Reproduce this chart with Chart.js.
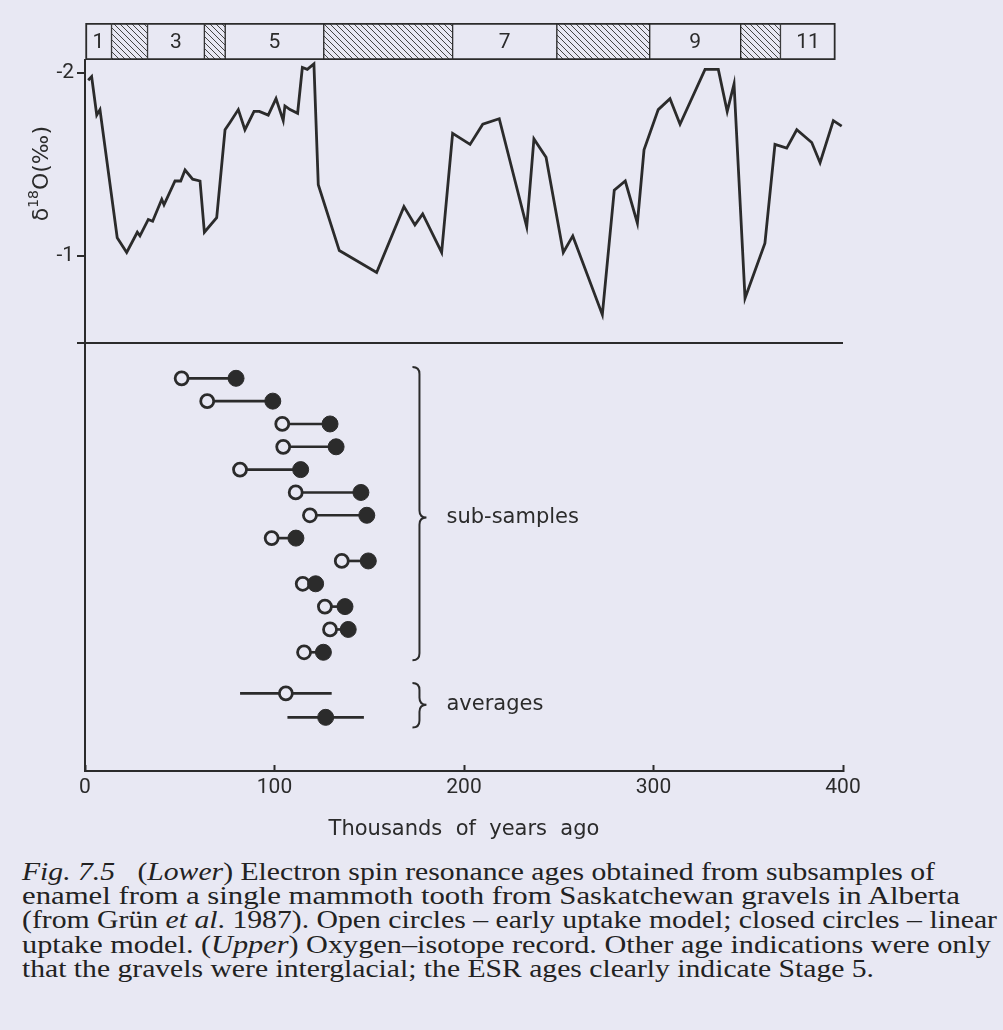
<!DOCTYPE html>
<html><head><meta charset="utf-8">
<script src="https://cdn.jsdelivr.net/npm/chart.js@4.4.1/dist/chart.umd.min.js"></script>
<style>
html,body{margin:0;padding:0;background:#e8e8f3;}
#wrap{position:relative;width:1003px;height:1030px;overflow:hidden;background:#e8e8f3;}
canvas{position:absolute;left:0;top:0;}
#cap{position:absolute;left:22px;top:860px;font-family:"Liberation Serif",serif;font-size:26px;line-height:24.2px;color:#222;}
#cap div{white-space:nowrap;width:max-content;transform-origin:0 0;}
</style></head><body>
<div id="wrap">
<canvas id="c" width="1003" height="850"></canvas>
<div id="cap">
<div data-w="913"><i>Fig. 7.5</i>&nbsp;&nbsp; (<i>Lower</i>) Electron spin resonance ages obtained from subsamples of</div>
<div data-w="938">enamel from a single mammoth tooth from Saskatchewan gravels in Alberta</div>
<div data-w="975">(from Grün <i>et al</i>. 1987). Open circles – early uptake model; closed circles – linear</div>
<div data-w="969">uptake model. (<i>Upper</i>) Oxygen–isotope record. Other age indications were only</div>
<div data-w="852">that the gravels were interglacial; the ESR ages clearly indicate Stage 5.</div>
</div>
</div>
<script>
// ---------- data ----------
const stageStart = [0, 14, 33, 63, 74, 126, 194, 249, 298, 346, 367];
const stageEnd   = [14, 33, 63, 74, 126, 194, 249, 298, 346, 367, 396];
const stageLabels = ['1', '', '3', '', '5', '', '7', '', '9', '', '11'];

const isoAge = [1.7,3.5,6.2,7.9,17.0,22.0,27.6,29.0,33.4,35.7,40.5,41.7,47.5,50.5,52.8,56.8,60.7,63.0,69.5,73.9,76.5,80.9,84.4,89.2,92.0,96.7,100.8,104.6,105.5,108.2,112.2,114.7,117.3,120.8,123.1,134.2,153.9,168.3,174.1,178.2,188.2,194.0,203.2,209.9,218.6,233.1,236.9,243.3,252.4,257.4,273.0,279.3,285.1,291.5,295.0,302.5,308.7,314.0,327.2,334.2,338.9,342.5,348.3,358.8,364.1,370.3,375.6,383.5,387.9,394.9,399.3];
const isoValue = [-1.96,-1.98,-1.77,-1.80,-1.10,-1.02,-1.13,-1.11,-1.20,-1.19,-1.31,-1.28,-1.41,-1.41,-1.47,-1.42,-1.41,-1.13,-1.21,-1.69,-1.73,-1.80,-1.69,-1.79,-1.79,-1.77,-1.86,-1.74,-1.82,-1.80,-1.78,-2.03,-2.02,-2.05,-1.39,-1.03,-0.91,-1.27,-1.17,-1.23,-1.02,-1.67,-1.61,-1.72,-1.75,-1.16,-1.64,-1.54,-1.02,-1.11,-0.68,-1.36,-1.41,-1.18,-1.58,-1.80,-1.86,-1.72,-2.02,-2.02,-1.79,-1.94,-0.77,-1.07,-1.61,-1.59,-1.69,-1.62,-1.51,-1.74,-1.71];

const esrRow       = [1, 2, 3, 4, 5, 6, 7, 8, 9, 10, 11, 12, 13];
const earlyUptake  = [51.0, 64.5, 104.1, 104.6, 81.8, 111.2, 118.7, 98.5, 135.5, 114.9, 126.6, 129.3, 115.6];
const linearUptake = [79.7, 99.1, 129.3, 132.5, 113.8, 145.6, 148.7, 111.3, 149.5, 121.7, 137.2, 138.9, 125.8];

const avgRow = [14.8, 15.85];          // early, linear
const avgAge = [106, 127];
const avgErr = [24, 20];

const xTicks = [0, 100, 200, 300, 400];
const deltaTicks = [-2, -1];
const xTitle = 'Thousands  of  years  ago';

// ---------- style ----------
const INK = '#2b2b2b';
const BG = '#e8e8f3';

function hatchPattern() {
  const s = 6, c = document.createElement('canvas');
  c.width = s; c.height = s;
  const g = c.getContext('2d');
  g.fillStyle = BG; g.fillRect(0, 0, s, s);
  g.strokeStyle = '#444'; g.lineWidth = 1;
  g.beginPath();
  g.moveTo(0, 0); g.lineTo(s, s);
  g.moveTo(-1, s - 1); g.lineTo(1, s + 1);
  g.moveTo(s - 1, -1); g.lineTo(s + 1, 1);
  g.stroke();
  return g.createPattern(c, 'repeat');
}
const HATCH = hatchPattern();

function drawBrace(ctx, x, y1, y2, ym) {
  const r = 7;
  ctx.beginPath();
  ctx.moveTo(x - 7, y1);
  ctx.quadraticCurveTo(x, y1, x, y1 + r);
  ctx.lineTo(x, ym - r);
  ctx.quadraticCurveTo(x, ym, x + 7, ym);
  ctx.quadraticCurveTo(x, ym, x, ym + r);
  ctx.lineTo(x, y2 - r);
  ctx.quadraticCurveTo(x, y2, x - 7, y2);
  ctx.stroke();
}

const annotations = {
  id: 'annotations',
  afterDatasetsDraw(chart) {
    const ctx = chart.ctx;
    const x = chart.scales.x, yE = chart.scales.yEsr, yD = chart.scales.yDelta;
    ctx.save();
    // stage numbers
    ctx.fillStyle = INK;
    ctx.font = '21px Roboto';
    ctx.textAlign = 'center';
    ctx.textBaseline = 'middle';
    chart.getDatasetMeta(0).data.forEach((el, i) => {
      if (stageLabels[i]) ctx.fillText(stageLabels[i], (el.x + el.base) / 2, el.y + 1);
    });
    // braces
    ctx.strokeStyle = INK; ctx.lineWidth = 2;
    const bx = x.getPixelForValue(176.5);
    const s1 = yE.getPixelForValue(0.5), s2 = yE.getPixelForValue(13.35), sm = yE.getPixelForValue(7.1);
    const a1 = yE.getPixelForValue(14.35), a2 = yE.getPixelForValue(16.3), am = yE.getPixelForValue(15.3);
    drawBrace(ctx, bx, s1, s2, sm);
    drawBrace(ctx, bx, a1, a2, am);
    ctx.font = '21px "DejaVu Sans"';
    ctx.textAlign = 'left';
    ctx.fillText('sub-samples', bx + 27, sm);
    ctx.fillText('averages', bx + 27, am);
    // y title  δ18O (‰)
    ctx.translate(42, yD.getPixelForValue(-1.45));
    ctx.rotate(-Math.PI / 2);
    const parts = [['δ', '22px "DejaVu Sans"', 0], ['18', '14px "DejaVu Sans"', -8], ['O(‰)', '22px "DejaVu Sans"', 0]];
    let total = 0;
    parts.forEach(p => { ctx.font = p[1]; total += ctx.measureText(p[0]).width; });
    let cx = -total / 2;
    ctx.textAlign = 'left';
    parts.forEach(p => { ctx.font = p[1]; ctx.fillText(p[0], cx, p[2]); cx += ctx.measureText(p[0]).width; });
    ctx.restore();
  }
};

Chart.defaults.font.family = 'Roboto';
Chart.defaults.color = INK;

new Chart(document.getElementById('c'), {
  type: 'line',
  data: {
    datasets: [
      {
        type: 'bar', indexAxis: 'y', xAxisID: 'x', yAxisID: 'yStage',
        data: stageStart.map((s, i) => ({x: [s, stageEnd[i]], y: 'stage'})),
        backgroundColor: stageLabels.map(l => l ? BG : HATCH),
        borderColor: INK,
        borderWidth: c => ({top: 2, bottom: 2, left: c.dataIndex === 0 ? 2 : 1, right: c.dataIndex === stageStart.length - 1 ? 2 : 1}),
        borderSkipped: false, barPercentage: 1, categoryPercentage: 1, grouped: false, order: 6
      },
      {
        type: 'line', xAxisID: 'x', yAxisID: 'yDelta',
        data: isoAge.map((a, i) => ({x: a, y: isoValue[i]})),
        borderColor: INK, borderWidth: 2.8, pointRadius: 0, tension: 0, fill: false, order: 5
      },
      {
        type: 'bar', indexAxis: 'y', xAxisID: 'x', yAxisID: 'yEsr',
        data: esrRow.map((r, i) => ({x: [earlyUptake[i], linearUptake[i]], y: r}))
          .concat(avgRow.map((r, i) => ({x: [avgAge[i] - avgErr[i], avgAge[i] + avgErr[i]], y: r}))),
        backgroundColor: INK, borderWidth: 0, barThickness: 2, grouped: false, order: 4
      },
      {
        type: 'scatter', xAxisID: 'x', yAxisID: 'yEsr',
        data: esrRow.map((r, i) => ({x: earlyUptake[i], y: r})).concat([{x: avgAge[0], y: avgRow[0]}]),
        pointRadius: 6.5, pointBorderWidth: 2.8, pointBackgroundColor: BG, pointBorderColor: INK, order: 2
      },
      {
        type: 'scatter', xAxisID: 'x', yAxisID: 'yEsr',
        data: esrRow.map((r, i) => ({x: linearUptake[i], y: r})).concat([{x: avgAge[1], y: avgRow[1]}]),
        pointRadius: 8, pointBorderWidth: 1, pointBackgroundColor: INK, pointBorderColor: INK, order: 1
      }
    ]
  },
  options: {
    responsive: false, animation: false, devicePixelRatio: 1,
    layout: {padding: {left: 0, right: 160, top: 23, bottom: 0}},
    plugins: {legend: {display: false}, tooltip: {enabled: false}},
    scales: {
      x: {
        type: 'linear', position: 'bottom', min: 0, max: 400,
        afterBuildTicks: s => { s.ticks = xTicks.map(v => ({value: v})); },
        ticks: {font: {size: 21}, color: INK, padding: 10, maxRotation: 0, autoSkip: false},
        grid: {drawOnChartArea: false, tickLength: -6, tickColor: INK, tickWidth: 2},
        border: {display: true, color: INK, width: 2},
        title: {display: true, text: xTitle, font: {family: 'DejaVu Sans', size: 21}, color: INK, padding: {top: 0, bottom: 8}},
        afterFit: s => { s.height = 79; }
      },
      yStage: {
        type: 'category', labels: ['stage'], position: 'left', stack: 'v', stackWeight: 37, weight: 3, offset: true,
        ticks: {display: false}, grid: {display: false}, border: {display: false},
        afterFit: s => { s.width = 85; }
      },
      yDelta: {
        type: 'linear', position: 'left', stack: 'v', stackWeight: 283, weight: 2,
        reverse: true, min: -2.071, max: -0.525, offset: false,
        afterBuildTicks: s => { s.ticks = deltaTicks.concat([s.max]).map(v => ({value: v})); },
        ticks: {font: {size: 21}, color: INK, padding: 3, callback: v => deltaTicks.includes(v) ? String(v) : ''},
        grid: {
          color: c => (c.tick && c.tick.value === -0.525) ? INK : 'rgba(0,0,0,0)',
          lineWidth: 2, tickColor: INK, tickWidth: 2, tickLength: 8
        },
        border: {display: true, color: INK, width: 2},
        afterFit: s => { s.width = 85; }
      },
      yEsr: {
        type: 'linear', position: 'left', stack: 'v', stackWeight: 428, weight: 1,
        reverse: true, min: -0.546, max: 18.2, offset: false,
        ticks: {display: false}, grid: {display: false, offset: false},
        border: {display: true, color: INK, width: 2},
        afterFit: s => { s.width = 85; }
      }
    }
  },
  plugins: [annotations]
});

// fit caption lines to their measured widths
document.querySelectorAll('#cap div').forEach(d => {
  const w = +d.dataset.w, nat = d.getBoundingClientRect().width;
  d.style.transform = 'scaleX(' + (w / nat) + ')';
});
</script>
</body></html>
